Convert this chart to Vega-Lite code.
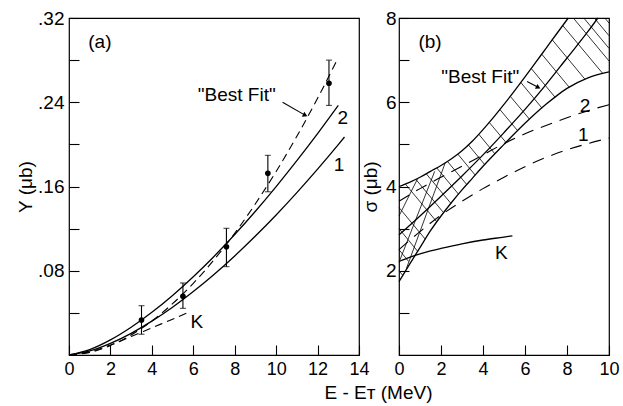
{
  "$schema": "https://vega.github.io/schema/vega-lite/v6.json",
  "autosize": {"type": "none"},
  "padding": {"left": 69, "top": 18, "right": 14, "bottom": 51},
  "params": [{"name": "width", "value": 540}, {"name": "height", "value": 337}],
  "background": "white",
  "spacing": 40,
  "bounds": "flush",
  "config": {
    "font": "Liberation Sans",
    "view": {"stroke": "black", "strokeWidth": 1.2},
    "axis": {
      "domain": false,
      "grid": false,
      "tickColor": "black",
      "tickSize": -10,
      "tickWidth": 1.1,
      "labelFontSize": 19,
      "labelColor": "black",
      "labelFont": "Liberation Sans",
      "labelOverlap": false,
      "labelFlush": false,
      "titleFont": "Liberation Sans",
      "titleFontSize": 19,
      "titleFontWeight": "normal",
      "titleColor": "black"
    },
    "text": {"font": "Liberation Sans", "fontSize": 19, "color": "black"}
  },
  "datasets": {
    "a_solid": [
      {"series": "2", "x": 0, "y": 0}, {"series": "2", "x": 1, "y": 0.0051}, {"series": "2", "x": 2, "y": 0.0143},
      {"series": "2", "x": 3, "y": 0.0263}, {"series": "2", "x": 4, "y": 0.0405}, {"series": "2", "x": 5, "y": 0.0565},
      {"series": "2", "x": 6, "y": 0.0743}, {"series": "2", "x": 7, "y": 0.0936}, {"series": "2", "x": 8, "y": 0.1144},
      {"series": "2", "x": 9, "y": 0.1365}, {"series": "2", "x": 10, "y": 0.1599}, {"series": "2", "x": 11, "y": 0.1845},
      {"series": "2", "x": 12, "y": 0.2102}, {"series": "2", "x": 13, "y": 0.237},
      {"series": "1", "x": 0, "y": 0}, {"series": "1", "x": 1, "y": 0.0038}, {"series": "1", "x": 2, "y": 0.011},
      {"series": "1", "x": 3, "y": 0.0206}, {"series": "1", "x": 4, "y": 0.0322}, {"series": "1", "x": 5, "y": 0.0454},
      {"series": "1", "x": 6, "y": 0.0603}, {"series": "1", "x": 7, "y": 0.0765}, {"series": "1", "x": 8, "y": 0.0941},
      {"series": "1", "x": 9, "y": 0.113}, {"series": "1", "x": 10, "y": 0.133}, {"series": "1", "x": 11, "y": 0.1542},
      {"series": "1", "x": 12, "y": 0.1765}, {"series": "1", "x": 13, "y": 0.1998}, {"series": "1", "x": 13.3, "y": 0.207}
    ],
    "a_dash": [
      {"series": "best", "x": 0, "y": 0}, {"series": "best", "x": 1, "y": 0.0025}, {"series": "best", "x": 2, "y": 0.009},
      {"series": "best", "x": 3, "y": 0.019}, {"series": "best", "x": 4, "y": 0.0323}, {"series": "best", "x": 5, "y": 0.0487},
      {"series": "best", "x": 6, "y": 0.0681}, {"series": "best", "x": 7, "y": 0.0904}, {"series": "best", "x": 8, "y": 0.1156},
      {"series": "best", "x": 9, "y": 0.1436}, {"series": "best", "x": 10, "y": 0.1743}, {"series": "best", "x": 11, "y": 0.2077},
      {"series": "best", "x": 12, "y": 0.2438}, {"series": "best", "x": 12.9, "y": 0.2785},
      {"series": "K", "x": 0, "y": 0}, {"series": "K", "x": 1, "y": 0.003}, {"series": "K", "x": 2, "y": 0.0095},
      {"series": "K", "x": 3, "y": 0.0175}, {"series": "K", "x": 4, "y": 0.0258}, {"series": "K", "x": 5, "y": 0.034},
      {"series": "K", "x": 5.67, "y": 0.0396}
    ],
    "a_pts": [
      {"x": 3.5, "y": 0.0332, "lo": 0.0197, "hi": 0.0468},
      {"x": 5.5, "y": 0.0557, "lo": 0.0443, "hi": 0.0684},
      {"x": 7.6, "y": 0.1028, "lo": 0.0839, "hi": 0.1203},
      {"x": 9.6, "y": 0.1725, "lo": 0.155, "hi": 0.1896},
      {"x": 12.55, "y": 0.258, "lo": 0.237, "hi": 0.28}
    ],
    "a_text": [
      {"x": 1.49, "y": 0.297, "text": "(a)"},
      {"x": 8.1, "y": 0.247, "text": "\"Best Fit\""},
      {"x": 13.22, "y": 0.2248, "text": "2"},
      {"x": 13.03, "y": 0.1804, "text": "1"},
      {"x": 6.17, "y": 0.0313, "text": "K"}
    ],
    "a_arrow": [
      {"x": 10.31, "y": 0.24, "x2": 11.37, "y2": 0.228}
    ],
    "b_solid": [
      {"series": "upper", "x": 0, "y": 4.0}, {"series": "upper", "x": 0.5, "y": 4.1}, {"series": "upper", "x": 1, "y": 4.22},
      {"series": "upper", "x": 1.5, "y": 4.36}, {"series": "upper", "x": 2, "y": 4.5}, {"series": "upper", "x": 2.5, "y": 4.66},
      {"series": "upper", "x": 3, "y": 4.85}, {"series": "upper", "x": 3.5, "y": 5.08}, {"series": "upper", "x": 4, "y": 5.35},
      {"series": "upper", "x": 4.5, "y": 5.64}, {"series": "upper", "x": 5, "y": 5.95}, {"series": "upper", "x": 5.5, "y": 6.27},
      {"series": "upper", "x": 6, "y": 6.6}, {"series": "upper", "x": 6.5, "y": 6.94}, {"series": "upper", "x": 7, "y": 7.28},
      {"series": "upper", "x": 7.5, "y": 7.62}, {"series": "upper", "x": 8.06, "y": 8.0},
      {"series": "middle", "x": 0, "y": 2.85}, {"series": "middle", "x": 1, "y": 3.3}, {"series": "middle", "x": 2, "y": 3.77},
      {"series": "middle", "x": 3, "y": 4.25}, {"series": "middle", "x": 4, "y": 4.75}, {"series": "middle", "x": 5, "y": 5.28},
      {"series": "middle", "x": 6, "y": 5.83}, {"series": "middle", "x": 7, "y": 6.42}, {"series": "middle", "x": 8, "y": 7.05},
      {"series": "middle", "x": 9, "y": 7.68}, {"series": "middle", "x": 9.47, "y": 8.0},
      {"series": "lower", "x": 0, "y": 1.74}, {"series": "lower", "x": 0.5, "y": 2.15}, {"series": "lower", "x": 1, "y": 2.55},
      {"series": "lower", "x": 1.5, "y": 2.95}, {"series": "lower", "x": 2, "y": 3.3}, {"series": "lower", "x": 2.5, "y": 3.62},
      {"series": "lower", "x": 3, "y": 3.92}, {"series": "lower", "x": 3.5, "y": 4.2}, {"series": "lower", "x": 4, "y": 4.48},
      {"series": "lower", "x": 5, "y": 5.0}, {"series": "lower", "x": 6, "y": 5.5}, {"series": "lower", "x": 7, "y": 5.95},
      {"series": "lower", "x": 8, "y": 6.33}, {"series": "lower", "x": 9, "y": 6.58}, {"series": "lower", "x": 10, "y": 6.72},
      {"series": "K", "x": 0, "y": 2.22}, {"series": "K", "x": 0.5, "y": 2.32}, {"series": "K", "x": 1, "y": 2.4},
      {"series": "K", "x": 1.5, "y": 2.47}, {"series": "K", "x": 2, "y": 2.53}, {"series": "K", "x": 3, "y": 2.64},
      {"series": "K", "x": 4, "y": 2.73}, {"series": "K", "x": 5, "y": 2.8}, {"series": "K", "x": 5.4, "y": 2.83}
    ],
    "b_dash": [
      {"series": "2", "x": 0, "y": 3.65}, {"series": "2", "x": 1, "y": 3.95}, {"series": "2", "x": 2, "y": 4.22},
      {"series": "2", "x": 3, "y": 4.48}, {"series": "2", "x": 4, "y": 4.75}, {"series": "2", "x": 5, "y": 5.02},
      {"series": "2", "x": 6, "y": 5.25}, {"series": "2", "x": 7, "y": 5.45}, {"series": "2", "x": 8, "y": 5.63},
      {"series": "2", "x": 9, "y": 5.8}, {"series": "2", "x": 10, "y": 5.94},
      {"series": "1", "x": 0, "y": 2.5}, {"series": "1", "x": 1, "y": 2.93}, {"series": "1", "x": 2, "y": 3.32},
      {"series": "1", "x": 3, "y": 3.65}, {"series": "1", "x": 4, "y": 3.95}, {"series": "1", "x": 5, "y": 4.22},
      {"series": "1", "x": 6, "y": 4.47}, {"series": "1", "x": 7, "y": 4.69}, {"series": "1", "x": 8, "y": 4.87},
      {"series": "1", "x": 9, "y": 5.02}, {"series": "1", "x": 10, "y": 5.15}
    ],
    "b_hatch": [
      {"x": 0.3, "y": 4.06, "x2": 1.8, "y2": 3.16},
      {"x": 0.8, "y": 4.17, "x2": 2.12, "y2": 3.38},
      {"x": 1.3, "y": 4.3, "x2": 2.47, "y2": 3.6},
      {"x": 1.8, "y": 4.44, "x2": 2.83, "y2": 3.82},
      {"x": 2.3, "y": 4.6, "x2": 3.22, "y2": 4.05},
      {"x": 2.8, "y": 4.77, "x2": 3.63, "y2": 4.27},
      {"x": 3.3, "y": 4.99, "x2": 4.08, "y2": 4.52},
      {"x": 3.8, "y": 5.24, "x2": 4.56, "y2": 4.78},
      {"x": 4.3, "y": 5.52, "x2": 5.09, "y2": 5.05},
      {"x": 4.8, "y": 5.83, "x2": 5.64, "y2": 5.33},
      {"x": 5.3, "y": 6.14, "x2": 6.21, "y2": 5.6},
      {"x": 5.8, "y": 6.47, "x2": 6.81, "y2": 5.86},
      {"x": 6.3, "y": 6.8, "x2": 7.43, "y2": 6.12},
      {"x": 6.8, "y": 7.14, "x2": 8.1, "y2": 6.36},
      {"x": 7.3, "y": 7.48, "x2": 8.85, "y2": 6.55},
      {"x": 7.8, "y": 7.82, "x2": 9.69, "y2": 6.69},
      {"x": 8.3, "y": 8.0, "x2": 10, "y2": 6.98},
      {"x": 8.8, "y": 8.0, "x2": 10, "y2": 7.28},
      {"x": 9.3, "y": 8.0, "x2": 10, "y2": 7.58},
      {"x": 9.8, "y": 8.0, "x2": 10, "y2": 7.88},
      {"x": 0, "y": 3.5, "x2": 1.25, "y2": 2.75},
      {"x": 0, "y": 3.0, "x2": 0.89, "y2": 2.46},
      {"x": 0, "y": 2.5, "x2": 0.46, "y2": 2.22},
      {"x": 0, "y": 2.0, "x2": 0.18, "y2": 1.89},
      {"x": 0, "y": 2.2, "x2": 1.7, "y2": 4.36},
      {"x": 0.35, "y": 2.05, "x2": 2.2, "y2": 4.56},
      {"x": 0, "y": 3.3, "x2": 0.9, "y2": 4.2}
    ],
    "b_text": [
      {"x": 1.48, "y": 7.43, "text": "(b)"},
      {"x": 3.87, "y": 6.6, "text": "\"Best Fit\""},
      {"x": 8.86, "y": 5.9, "text": "2"},
      {"x": 8.78, "y": 5.23, "text": "1"},
      {"x": 4.87, "y": 2.42, "text": "K"}
    ],
    "b_arrow": [
      {"x": 6.1, "y": 6.49, "x2": 6.6, "y2": 6.36}
    ]
  },
  "hconcat": [
    {
      "width": 290,
      "height": 337,
      "encoding": {
        "x": {"field": "x", "type": "quantitative", "scale": {"domain": [0, 14], "nice": false},
          "axis": {"values": [0, 2, 4, 6, 8, 10, 12, 14], "title": "E - Eᴛ (MeV)", "titleX": 309, "titleY": 37,
            "titleAlign": "center", "titleBaseline": "middle", "titleFontSize": 19, "labelPadding": 15, "labelFontSize": 18}},
        "y": {"field": "y", "type": "quantitative", "scale": {"domain": [0, 0.32], "nice": false},
          "axis": {"values": [0.04, 0.08, 0.12, 0.16, 0.2, 0.24, 0.28, 0.32],
            "labelExpr": "indexof(['.08','.16','.24','.32'], replace(format(datum.value,'.2f'),'0.','.')) >= 0 ? replace(format(datum.value,'.2f'),'0.','.') : ''",
            "title": "Y (μb)", "titleX": -44, "titleY": 168.5, "titleAlign": "center", "titleBaseline": "middle", "labelPadding": 15}}
      },
      "layer": [
        {"data": {"name": "a_solid"}, "mark": {"type": "line", "color": "black", "strokeWidth": 1.3, "interpolate": "monotone"},
          "encoding": {"detail": {"field": "series"}}},
        {"data": {"name": "a_dash"}, "mark": {"type": "line", "color": "black", "strokeWidth": 1.1, "strokeDash": [8, 5], "interpolate": "monotone"},
          "encoding": {"detail": {"field": "series"}}},
        {"data": {"name": "a_pts"}, "mark": {"type": "rule", "color": "black", "strokeWidth": 1.1},
          "encoding": {"y": {"field": "lo", "type": "quantitative"}, "y2": {"field": "hi"}}},
        {"data": {"name": "a_pts"}, "mark": {"type": "tick", "color": "black", "orient": "horizontal", "size": 6, "thickness": 1.1},
          "encoding": {"y": {"field": "lo", "type": "quantitative"}}},
        {"data": {"name": "a_pts"}, "mark": {"type": "tick", "color": "black", "orient": "horizontal", "size": 6, "thickness": 1.1},
          "encoding": {"y": {"field": "hi", "type": "quantitative"}}},
        {"data": {"name": "a_pts"}, "mark": {"type": "point", "filled": true, "color": "black", "size": 32, "opacity": 1}},
        {"data": {"name": "a_text"}, "mark": {"type": "text", "align": "center", "baseline": "middle", "fontSize": 19},
          "encoding": {"text": {"field": "text"}}},
        {"data": {"name": "a_arrow"}, "mark": {"type": "rule", "color": "black", "strokeWidth": 1.1},
          "encoding": {"x2": {"field": "x2"}, "y2": {"field": "y2"}}},
        {"data": {"name": "a_arrow"}, "mark": {"type": "point", "shape": "triangle", "filled": true, "color": "black", "size": 30, "angle": 116, "opacity": 1},
          "encoding": {"x": {"field": "x2", "type": "quantitative"}, "y": {"field": "y2", "type": "quantitative"}}}
      ]
    },
    {
      "width": 210,
      "height": 337,
      "encoding": {
        "x": {"field": "x", "type": "quantitative", "scale": {"domain": [0, 10], "nice": false},
          "axis": {"values": [0, 2, 4, 6, 8, 10], "title": null, "labelPadding": 15, "labelFontSize": 18}},
        "y": {"field": "y", "type": "quantitative", "scale": {"domain": [0, 8], "nice": false},
          "axis": {"values": [1, 2, 3, 4, 5, 6, 7, 8], "labelExpr": "datum.value % 2 == 0 ? datum.label : ''",
            "title": "σ (μb)", "titleX": -29, "titleY": 168.5, "titleAlign": "center", "titleBaseline": "middle", "labelPadding": 13}}
      },
      "layer": [
        {"data": {"name": "b_hatch"}, "mark": {"type": "rule", "color": "black", "strokeWidth": 0.8},
          "encoding": {"x2": {"field": "x2"}, "y2": {"field": "y2"}}},
        {"data": {"name": "b_solid"}, "mark": {"type": "line", "color": "black", "strokeWidth": 1.3, "interpolate": "monotone"},
          "encoding": {"detail": {"field": "series"}}},
        {"data": {"name": "b_dash"}, "mark": {"type": "line", "color": "black", "strokeWidth": 1.1, "strokeDash": [12, 8], "interpolate": "monotone"},
          "encoding": {"detail": {"field": "series"}}},
        {"data": {"name": "b_text"}, "mark": {"type": "text", "align": "center", "baseline": "middle", "fontSize": 19},
          "encoding": {"text": {"field": "text"}}},
        {"data": {"name": "b_arrow"}, "mark": {"type": "rule", "color": "black", "strokeWidth": 1.1},
          "encoding": {"x2": {"field": "x2"}, "y2": {"field": "y2"}}},
        {"data": {"name": "b_arrow"}, "mark": {"type": "point", "shape": "triangle", "filled": true, "color": "black", "size": 30, "angle": 118, "opacity": 1},
          "encoding": {"x": {"field": "x2", "type": "quantitative"}, "y": {"field": "y2", "type": "quantitative"}}}
      ]
    }
  ]
}
